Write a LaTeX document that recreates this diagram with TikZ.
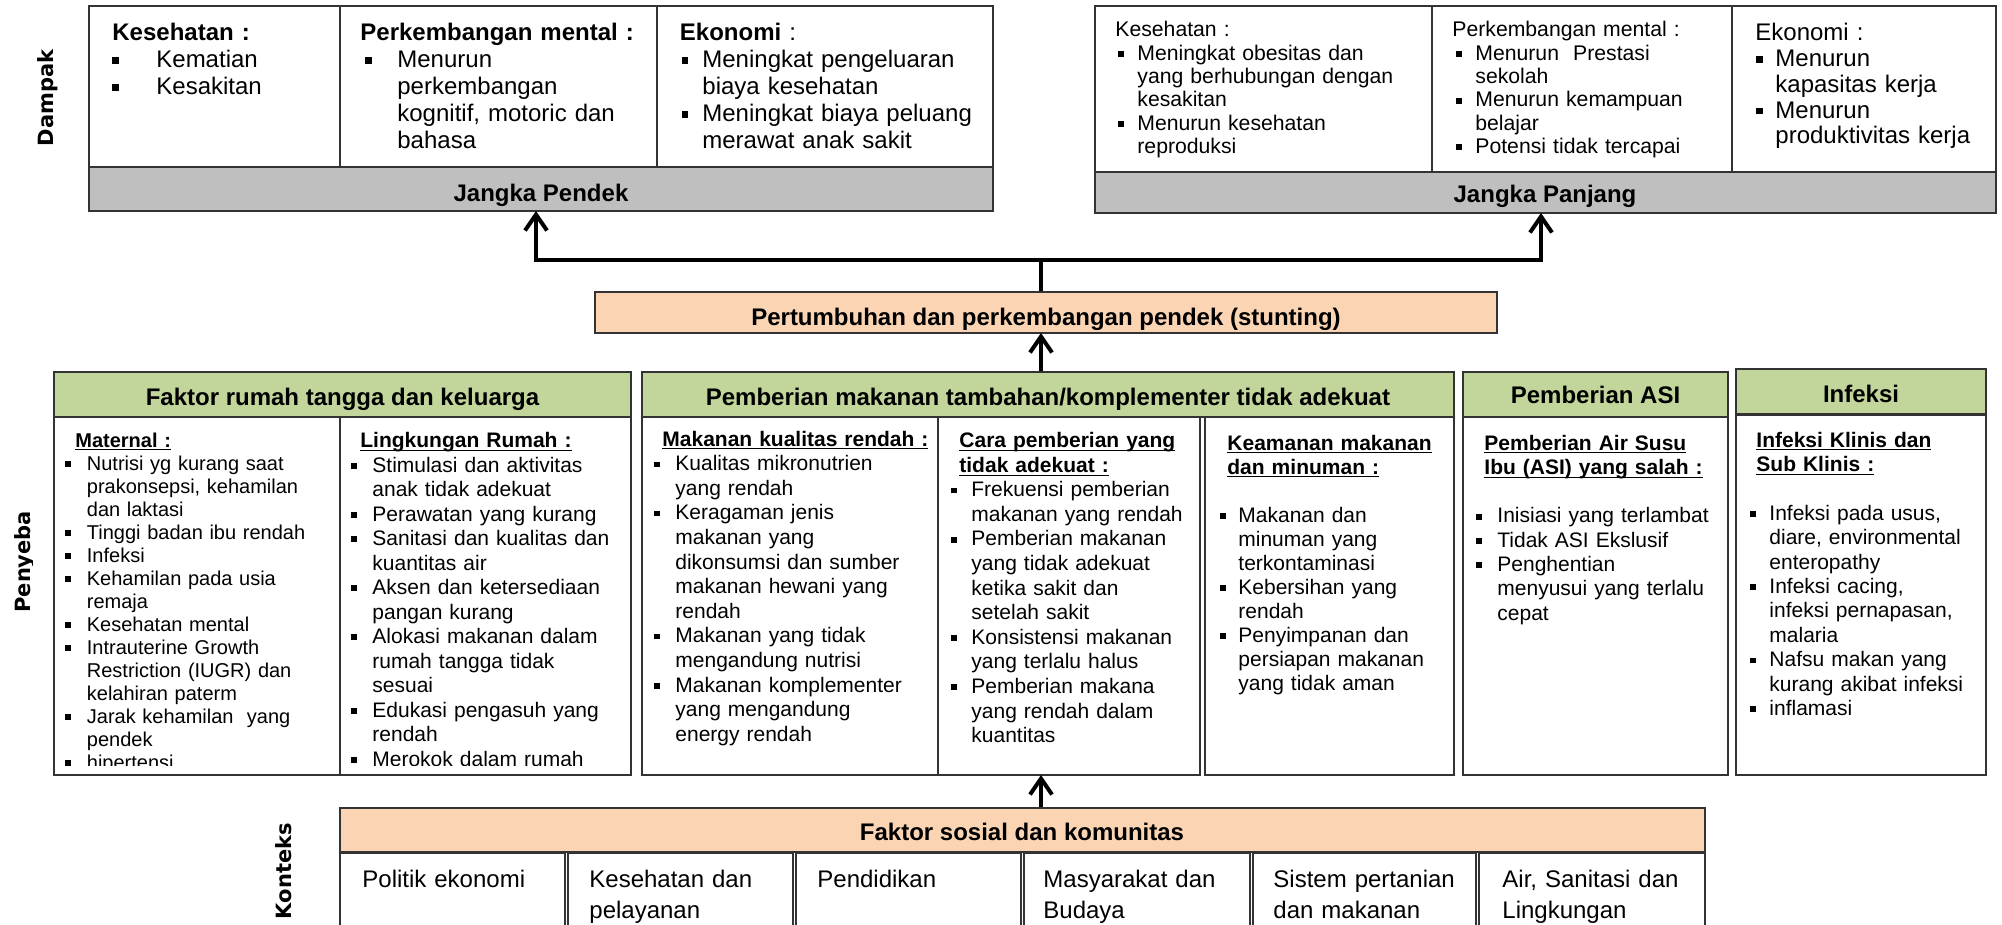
\documentclass[tikz,border=0pt]{standalone}
\usepackage{fontspec}
\setmainfont{Liberation Sans}
\newfontfamily\labelfont{DejaVu Sans}
\usetikzlibrary{arrows.meta}
\definecolor{peach}{RGB}{251,212,180}
\definecolor{leaf}{RGB}{194,214,155}
\definecolor{bargray}{RGB}{191,191,191}
\newlength\bx
\newlength\tx
\newcommand{\lst}[2]{\setlength\bx{#1}\setlength\tx{#2}}
\newcommand{\sqb}{\rule[0.16em]{0.27em}{0.27em}}
\newcommand{\itm}[1]{\par\hangindent=\tx\hangafter=1\noindent\hspace*{\bx}\makebox[\dimexpr\tx-\bx\relax][l]{\sqb}#1\par}
\newcommand{\uln}[1]{\underline{\smash{#1}}}

\begin{document}
\begin{tikzpicture}[x=0.5pt, y=-0.5pt,
    cellbox/.style={draw=black!80, line width=0.7pt},
    conn/.style={draw=black, line width=2pt},
    >={Straight Barb[length=8pt,width=11pt]},
    titletxt/.style={anchor=base, inner sep=0pt, font=\bfseries\fontsize{12}{14}\selectfont},
    listtxt/.style={anchor=base west, inner sep=0pt, align=left},
    sidelbl/.style={rotate=90, anchor=base, inner sep=0pt, font=\labelfont\bfseries\fontsize{10.5}{12}\selectfont}]
    \fill[white] (0,0) rectangle (2002,925);
    \useasboundingbox (0,0) rectangle (2002,925);

    % side labels
    \node[sidelbl] (dampak) at (53,98) {Dampak};
    \begin{scope}
      \clip (0,510) rectangle (32,640);
      \node[sidelbl, anchor=base west] (penyebab) at (31,613) {Penyebab};
    \end{scope}
    \node[sidelbl] (konteks) at (291,871) {Konteks};

    % dampak: jangka pendek
    \draw[cellbox] (89,6) rectangle (993,167);
    \draw[cellbox] (340,6) -- (340,167);
    \draw[cellbox] (657,6) -- (657,167);
    \draw[cellbox, fill=bargray] (89,167) rectangle (993,211);
    \node[titletxt] (pendek) at (541,202) {Jangka Pendek};
    \node[listtxt, text width=110pt, font=\fontsize{12}{13.4}\selectfont] (pendekA) at (112,41)
      {\lst{0pt}{22pt}\textbf{Kesehatan :}\itm{Kematian}\itm{Kesakitan}};
    \node[listtxt, text width=144pt, font=\fontsize{12}{13.4}\selectfont] (pendekB) at (360,41)
      {\lst{2.5pt}{18.5pt}\textbf{Perkembangan mental :}
       \itm{Menurun\newline perkembangan\newline kognitif, motoric dan\newline bahasa}};
    \node[listtxt, text width=152pt, font=\fontsize{12}{13.4}\selectfont] (pendekC) at (679.5,41)
      {\lst{1pt}{11.25pt}\textbf{Ekonomi} :
       \itm{Meningkat pengeluaran\newline biaya kesehatan}
       \itm{Meningkat biaya peluang\newline merawat anak sakit}};

    % dampak: jangka panjang
    \draw[cellbox] (1095,6) rectangle (1996,172);
    \draw[cellbox] (1432,6) -- (1432,172);
    \draw[cellbox] (1732,6) -- (1732,172);
    \draw[cellbox, fill=bargray] (1095,172) rectangle (1996,213);
    \node[titletxt] (panjang) at (1545,203) {Jangka Panjang};
    \node[listtxt, text width=154pt, font=\fontsize{10.6}{11.65}\selectfont] (panjangA) at (1115,37)
      {\lst{1.5pt}{11pt}Kesehatan :
       \itm{Meningkat obesitas dan\newline yang berhubungan dengan\newline kesakitan}
       \itm{Menurun kesehatan\newline reproduksi}};
    \node[listtxt, text width=136pt, font=\fontsize{10.6}{11.65}\selectfont] (panjangB) at (1452,37)
      {\lst{2pt}{11.5pt}Perkembangan mental :
       \itm{Menurun~ Prestasi\newline sekolah}
       \itm{Menurun kemampuan\newline belajar}
       \itm{Potensi tidak tercapai}};
    \node[listtxt, text width=118pt, font=\fontsize{12}{12.85}\selectfont] (panjangC) at (1755,41)
      {\lst{0.5pt}{10pt}Ekonomi :
       \itm{Menurun\newline kapasitas kerja}
       \itm{Menurun\newline produktivitas kerja}};

    % connectors to dampak
    \coordinate (split) at (1041,260);
    \coordinate (pendekIn) at (536,211);
    \coordinate (panjangIn) at (1541,213);
    \coordinate (stuntTop) at (1041,292);
    \draw[conn] (stuntTop) -- (split);
    \draw[conn, ->] (split) -| (pendekIn);
    \draw[conn, ->] (split) -| (panjangIn);

    % stunting
    \draw[cellbox, fill=peach] (595,292) rectangle (1497,333);
    \node[titletxt] (stunting) at (1046,325) {Pertumbuhan dan perkembangan pendek (stunting)};
    \coordinate (stuntBot) at (1041,333);
    \coordinate (makananTop) at (1041,372);
    \draw[conn, ->] (makananTop) -- (stuntBot);

    % penyebab: rumah tangga
    \draw[cellbox, fill=leaf] (54,372) rectangle (631,417);
    \draw[cellbox] (54,417) rectangle (631,775);
    \draw[cellbox] (340,417) -- (340,775);
    \node[titletxt] (rumah) at (342.5,405) {Faktor rumah tangga dan keluarga};
    \begin{scope}
      \clip (54,417) rectangle (631,765);
      \node[listtxt, text width=132pt, font=\fontsize{10}{11.5}\selectfont] (maternal) at (65,447)
        {\lst{0pt}{10.75pt}\hspace*{5pt}\textbf{\uln{Maternal :}}
         \itm{Nutrisi yg kurang saat\newline prakonsepsi, kehamilan\newline dan laktasi}
         \itm{Tinggi badan ibu rendah}
         \itm{Infeksi}
         \itm{Kehamilan pada usia\newline remaja}
         \itm{Kesehatan mental}
         \itm{Intrauterine Growth\newline Restriction (IUGR) dan\newline kelahiran paterm}
         \itm{Jarak kehamilan~ yang\newline pendek}
         \itm{hipertensi}};
      \node[listtxt, text width=135pt, font=\fontsize{10.5}{12.25}\selectfont] (lingkungan) at (351,447.5)
        {\lst{0pt}{10.5pt}\hspace*{4.5pt}\textbf{\uln{Lingkungan Rumah :}}
         \itm{Stimulasi dan aktivitas\newline anak tidak adekuat}
         \itm{Perawatan yang kurang}
         \itm{Sanitasi dan kualitas dan\newline kuantitas air}
         \itm{Aksen dan ketersediaan\newline pangan kurang}
         \itm{Alokasi makanan dalam\newline rumah tangga tidak\newline sesuai}
         \itm{Edukasi pengasuh yang\newline rendah}
         \itm{Merokok dalam rumah}};
    \end{scope}

    % penyebab: makanan tambahan
    \draw[cellbox, fill=leaf] (642,372) rectangle (1454,417);
    \draw[cellbox] (642,417) rectangle (1200,775);
    \draw[cellbox] (938,417) -- (938,775);
    \draw[cellbox] (1205,417) rectangle (1454,775);
    \node[titletxt] (makanan) at (1048,405) {Pemberian makanan tambahan/komplementer tidak adekuat};
    \node[listtxt, text width=138pt, font=\fontsize{10.5}{12.3}\selectfont] (kualitas) at (654,446)
      {\lst{0pt}{10.5pt}\hspace*{4pt}\textbf{\uln{Makanan kualitas rendah :}}
       \itm{Kualitas mikronutrien\newline yang rendah}
       \itm{Keragaman jenis\newline makanan yang\newline dikonsumsi dan sumber\newline makanan hewani yang\newline rendah}
       \itm{Makanan yang tidak\newline mengandung nutrisi}
       \itm{Makanan komplementer\newline yang mengandung\newline energy rendah}};
    \node[listtxt, text width=120pt, font=\fontsize{10.5}{12.3}\selectfont] (cara) at (951,447.5)
      {\lst{0pt}{10pt}\hspace*{4pt}\textbf{\uln{Cara pemberian yang}}\newline
       \hspace*{4pt}\textbf{\uln{tidak adekuat :}}
       \itm{Frekuensi pemberian\newline makanan yang rendah}
       \itm{Pemberian makanan\newline yang tidak adekuat\newline ketika sakit dan\newline setelah sakit}
       \itm{Konsistensi makanan\newline yang terlalu halus}
       \itm{Pemberian makana\newline yang rendah dalam\newline kuantitas}};
    \node[listtxt, text width=112pt, font=\fontsize{10.5}{12}\selectfont] (keamanan) at (1220,450)
      {\lst{0pt}{9pt}\hspace*{3.5pt}\textbf{\uln{Keamanan makanan}}\newline
       \hspace*{3.5pt}\textbf{\uln{dan minuman :}}\par\vspace{\baselineskip}
       \itm{Makanan dan\newline minuman yang\newline terkontaminasi}
       \itm{Kebersihan yang\newline rendah}
       \itm{Penyimpanan dan\newline persiapan makanan\newline yang tidak aman}};

    % penyebab: ASI
    \draw[cellbox, fill=leaf] (1463,372) rectangle (1728,417);
    \draw[cellbox] (1463,417) rectangle (1728,775);
    \node[titletxt] (asi) at (1595.5,403) {Pemberian ASI};
    \node[listtxt, text width=120pt, font=\fontsize{10.5}{12.15}\selectfont] (asiA) at (1476,450)
      {\lst{0pt}{10.5pt}\hspace*{4pt}\textbf{\uln{Pemberian Air Susu}}\newline
       \hspace*{4pt}\textbf{\uln{Ibu (ASI) yang salah :}}\par\vspace{\baselineskip}
       \itm{Inisiasi yang terlambat}
       \itm{Tidak ASI Ekslusif}
       \itm{Penghentian\newline menyusui yang terlalu\newline cepat}};

    % penyebab: infeksi
    \draw[cellbox, fill=leaf] (1736,369) rectangle (1986,414);
    \draw[cellbox] (1736,415) rectangle (1986,775);
    \node[titletxt] (infeksi) at (1861,402) {Infeksi};
    \node[listtxt, text width=114pt, font=\fontsize{10.5}{12.2}\selectfont] (infeksiA) at (1750,447)
      {\lst{0pt}{9.5pt}\hspace*{3pt}\textbf{\uln{Infeksi Klinis dan}}\newline
       \hspace*{3pt}\textbf{\uln{Sub Klinis :}}\par\vspace{\baselineskip}
       \itm{Infeksi pada usus,\newline diare, environmental\newline enteropathy}
       \itm{Infeksi cacing,\newline infeksi pernapasan,\newline malaria}
       \itm{Nafsu makan yang\newline kurang akibat infeksi}
       \itm{inflamasi}};

    % konteks
    \coordinate (sosialTop) at (1041,808);
    \coordinate (penyebabBot) at (1041,775);
    \draw[conn, ->] (sosialTop) -- (penyebabBot);
    \draw[cellbox, fill=peach] (340,808) rectangle (1705,852);
    \node[titletxt] (sosial) at (1022,840) {Faktor sosial dan komunitas};
    \draw[cellbox] (340,853) rectangle (565,940);
    \draw[cellbox] (568,853) rectangle (793,940);
    \draw[cellbox] (796,853) rectangle (1021,940);
    \draw[cellbox] (1024,853) rectangle (1250,940);
    \draw[cellbox] (1253,853) rectangle (1476,940);
    \draw[cellbox] (1479,853) rectangle (1705,940);
    \node[listtxt, text width=100pt, font=\fontsize{12}{15.5}\selectfont] (politik) at (362,887) {Politik ekonomi};
    \node[listtxt, text width=100pt, font=\fontsize{12}{15.5}\selectfont] (layanan) at (589,887) {Kesehatan dan\\pelayanan};
    \node[listtxt, text width=100pt, font=\fontsize{12}{15.5}\selectfont] (didik) at (817,887) {Pendidikan};
    \node[listtxt, text width=100pt, font=\fontsize{12}{15.5}\selectfont] (budaya) at (1043,887) {Masyarakat dan\\Budaya};
    \node[listtxt, text width=100pt, font=\fontsize{12}{15.5}\selectfont] (tani) at (1273,887) {Sistem pertanian\\dan makanan};
    \node[listtxt, text width=100pt, font=\fontsize{12}{15.5}\selectfont] (air) at (1502,887) {Air, Sanitasi dan\\Lingkungan};
\end{tikzpicture}
\end{document}
